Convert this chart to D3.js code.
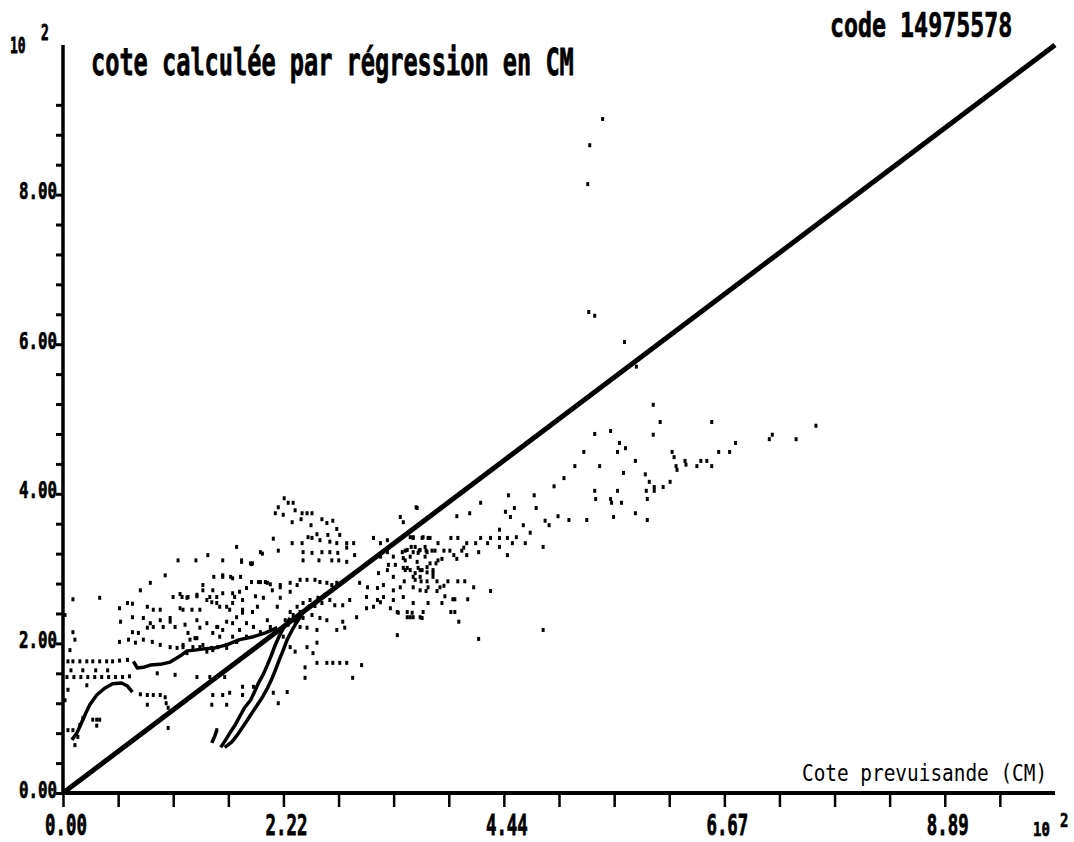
<!DOCTYPE html>
<html>
<head>
<meta charset="utf-8">
<script src="https://cdn.jsdelivr.net/npm/d3@7"></script>
<style>
body {margin:0; background:#fff;}
svg {display:block;}
text {font-family:"DejaVu Sans Mono", monospace; fill:#000;}
text.heavy {stroke:#000; stroke-width:0.5px;}
</style>
</head>
<body>
<div id="chart"></div>
<script>
// graduations
var xTicks = [0, 0.556, 1.111, 1.667, 2.222, 2.778, 3.333, 3.889, 4.444, 5.0, 5.556, 6.111, 6.667, 7.222, 7.778, 8.333, 8.889, 9.444];
var xLabelValues = [0, 2.222, 4.444, 6.667, 8.889];
var xLabels = ["0.00", "2.22", "4.44", "6.67", "8.89"];
var yTicks = [0, 0.4, 0.8, 1.2, 1.6, 2.0, 2.4, 2.8, 3.2, 3.6, 4.0, 4.4, 4.8, 5.2, 5.6, 6.0, 6.4, 6.8, 7.2, 7.6, 8.0, 8.4, 8.8, 9.2];
var yLabelValues = [0, 2, 4, 6, 8];
var yLabels = ["0.00", "2.00", "4.00", "6.00", "8.00"];

// droite y = x
var diagonale = [[0, 0], [10, 10]];

// points isolés en haut
var ptsOutliers = [[5.44,9.01],[5.31,8.66],[5.29,8.14],[5.30,6.43],[5.36,6.38],[5.66,6.03],[5.78,5.70]];

// nuage à droite (cotes prévues élevées)
var ptsDroite = [[5.95,5.19],[6.02,4.96],[6.54,4.96],[7.59,4.91],[5.36,4.80],[5.52,4.84],[5.95,4.79],[5.61,4.68],[5.67,4.61],[5.25,4.56],
  [5.59,4.56],[6.14,4.56],[6.16,4.49],[6.78,4.68],[7.12,4.73],[7.15,4.79],[7.39,4.73],[6.61,4.56],[6.72,4.56],[5.77,4.44],
  [6.27,4.44],[6.28,4.39],[6.43,4.44],[6.49,4.44],[6.39,4.37],[6.54,4.37],[6.18,4.37],[6.19,4.32],[5.16,4.37],[5.41,4.37],
  [5.65,4.28],[5.87,4.26],[5.05,4.21],[5.91,4.16],[5.96,4.09],[5.96,4.04],[6.05,4.09],[6.12,4.16],[5.36,4.04],[5.59,4.04],
  [5.88,4.04],[5.37,3.93],[5.52,3.93],[5.53,3.88],[5.63,3.88],[5.89,3.93],[5.77,3.74],[5.55,3.69],[5.10,3.65],[5.28,3.65],[5.89,3.65]];

// nuage du milieu
var ptsMilieu = [[3.56,3.82],[4.21,3.88],[4.49,3.98],[4.75,3.98],[4.95,4.10],[3.97,3.70],[4.10,3.74],[4.46,3.76],[4.51,3.69],[4.55,3.81],
  [4.77,3.81],[4.99,3.70],[4.86,3.64],[4.90,3.58],[4.64,3.58],[4.40,3.52],[4.71,3.48],[3.53,3.41],[3.70,3.41],[3.78,3.34],
  [3.91,3.41],[3.98,3.41],[4.07,3.34],[4.16,3.34],[4.21,3.41],[4.28,3.34],[4.31,3.41],[4.40,3.41],[4.48,3.41],[4.53,3.34],
  [4.57,3.42],[4.66,3.34],[4.40,3.29],[4.84,3.29],[4.48,3.18],[4.02,3.24],[4.04,3.28],[4.07,3.18],[4.19,3.22],[3.45,3.24],
  [3.51,3.29],[3.59,3.24],[3.66,3.24],[3.72,3.24],[3.75,3.24],[3.84,3.24],[3.90,3.24],[3.94,3.18],[3.82,3.13],[3.97,3.13],
  [3.45,3.11],[3.47,3.01],[3.58,3.01],[3.67,3.02],[3.76,3.07],[3.55,2.94],[3.60,2.89],[3.73,2.94],[3.73,2.89],[3.44,2.83],
  [3.55,2.85],[3.61,2.83],[3.67,2.83],[3.77,2.83],[3.88,2.83],[3.98,2.83],[4.05,2.83],[3.80,2.75],[3.84,2.77],[4.14,2.75],
  [4.31,2.70],[3.66,2.70],[3.77,2.70],[3.85,2.63],[3.93,2.59],[3.95,2.59],[4.08,2.59],[3.68,2.54],[3.82,2.54],[3.91,2.42],
  [3.95,2.42],[3.47,2.42],[3.50,2.35],[3.53,2.35],[3.60,2.35],[3.63,2.42],[3.99,2.29],[4.84,2.18],[4.19,2.06]];

// nuage central, autour de la droite
var ptsCentre = [[2.23,3.94],[2.27,3.88],[2.32,3.88],[2.17,3.82],[2.14,3.74],[2.22,3.72],[2.34,3.78],[2.41,3.74],[2.46,3.74],[2.51,3.74],
  [2.40,3.66],[2.31,3.62],[2.61,3.66],[2.66,3.61],[2.72,3.64],[2.50,3.58],[2.12,3.40],[2.31,3.34],[2.41,3.34],[2.47,3.42],
  [2.51,3.41],[2.56,3.46],[2.59,3.38],[2.67,3.45],[2.69,3.36],[2.76,3.53],[2.79,3.45],[2.76,3.34],[2.86,3.34],[2.93,3.34],
  [2.42,3.22],[2.51,3.21],[2.61,3.22],[2.69,3.22],[2.77,3.21],[2.86,3.28],[2.94,3.18],[1.99,3.22],[2.17,3.24],[1.80,3.11],
  [1.91,3.07],[2.01,3.20],[2.42,3.11],[2.58,3.11],[2.71,3.11],[2.78,3.11],[2.86,3.09],[3.13,3.41],[3.20,3.34],[3.27,3.38],
  [3.40,3.69],[3.43,3.62],[3.57,3.81],[3.53,3.42],[3.62,3.41],[3.68,3.41],[3.42,3.22],[3.47,3.25],[3.53,3.22],[3.60,3.25],
  [3.67,3.22],[3.43,3.14],[3.50,3.16],[3.57,3.09],[3.65,3.16],[3.70,3.07],[3.78,3.11],[3.28,3.05],[3.35,3.05],[3.43,3.01],
  [3.50,2.98],[3.60,2.98],[3.67,2.95],[3.73,2.98],
  [1.34,3.11],[1.46,3.18],[1.61,3.11],[1.75,3.29],[1.90,3.06],[1.52,2.89],[1.61,2.89],[1.69,2.89],[1.79,2.89],[1.90,2.82],
  [1.97,2.82],[2.04,2.82],[2.09,2.79],[2.19,2.75],[2.11,2.71],[2.19,2.61],[2.29,2.81],[2.36,2.78],[2.39,2.85],[2.46,2.85],
  [2.54,2.85],[2.59,2.82],[2.66,2.81],[2.71,2.78],[2.76,2.81],[1.94,2.63],[2.02,2.61],[1.81,2.58],[1.73,2.62],[1.61,2.67],
  [1.55,2.62],[1.51,2.71],[1.48,2.62],[1.41,2.71],[1.35,2.63],[1.26,2.62],[1.20,2.62],[1.68,2.45],[1.75,2.35],[1.81,2.41],
  [1.85,2.27],[1.65,2.29],[1.56,2.22],[1.51,2.14],[1.58,2.09],[1.71,2.09],[1.75,2.02],[1.65,1.98],[1.51,1.91],[1.45,1.89],
  [1.38,1.95],[1.31,1.95],[1.25,1.87],[1.21,1.95],[1.33,2.07],[1.38,2.21],[1.26,2.14],[3.37,2.11],[2.92,1.54],[3.01,1.71],
  [2.86,1.74],[2.79,1.74],[2.72,1.74],[2.66,1.74],[2.56,1.74],[2.44,1.68],[2.44,1.54],[2.34,1.89],[2.29,1.95],[2.46,1.95],
  [2.52,1.87],[2.56,2.01],[2.22,2.09],[3.06,2.47],[3.13,2.49],[3.20,2.55],[3.30,2.47],[3.37,2.42],[3.47,2.35],[3.62,2.34],
  [3.52,2.41],[3.38,2.41],[2.96,2.35],[2.82,2.29],[2.84,2.21],[2.76,2.18],[2.66,2.31],[2.59,2.34],[2.56,2.18],[2.46,2.21],
  [2.39,2.22],[2.99,2.81],[3.07,2.75],[3.17,2.74],[3.23,2.78],[3.33,2.71],[3.40,2.75],[3.53,2.75],[3.60,2.71],[3.68,2.75],
  [3.18,2.94],[3.27,2.98],[3.33,2.89],[3.45,2.98],[3.53,2.89],[3.62,2.98],[3.06,2.62],[3.17,2.58],[3.23,2.62],[3.33,2.58],
  [3.43,2.62],[3.53,2.54],[3.55,3.29],[3.58,3.21],[3.65,3.29],[3.50,3.42],[3.63,3.42],[3.33,3.16],[3.20,3.16],[3.27,3.22],
  [2.29,2.42],[2.36,2.49],[2.42,2.54],[2.49,2.58],[2.57,2.61],[2.64,2.65],[2.24,2.31],[2.32,2.38],[2.39,2.42],[2.47,2.47],
  [2.54,2.50],[2.61,2.54],[2.69,2.58],[2.74,2.51],[2.82,2.51],[2.89,2.58],[2.19,2.18],[2.27,2.25],[2.34,2.29],[2.42,2.34],[2.51,2.38]];

// nuage de gauche (faibles cotes prévues)
var ptsGauche = [[0.10,2.59],[0.57,2.47],[0.65,2.54],[0.70,2.53],[0.85,2.49],[0.91,2.45],[0.98,2.45],[1.11,2.62],[1.18,2.66],[1.25,2.61],
  [1.35,2.65],[1.61,2.91],[1.71,2.87],[1.80,3.09],[1.89,3.07],[1.41,2.78],[1.71,2.67],[1.78,2.69],[1.85,2.74],[1.99,2.82],
  [2.06,2.81],[2.19,2.78],[2.29,2.69],[0.58,2.29],[0.70,2.35],[0.81,2.34],[0.88,2.27],[0.98,2.31],[1.08,2.34],[1.18,2.47],
  [1.21,2.45],[1.30,2.45],[1.38,2.45],[1.45,2.58],[1.50,2.55],[1.55,2.54],[1.58,2.49],[1.65,2.49],[1.71,2.54],[1.81,2.45],
  [1.91,2.42],[1.96,2.49],[2.06,2.31],[2.16,2.49],[0.70,2.15],[0.76,2.14],[0.85,2.21],[0.91,2.22],[1.01,2.22],[1.08,2.29],
  [1.13,2.22],[1.23,2.25],[1.35,2.31],[1.45,2.27],[1.55,2.22],[1.61,2.18],[1.71,2.27],[1.78,2.18],[1.92,2.22],[0.57,2.02],
  [0.66,2.05],[0.73,2.01],[0.81,2.05],[0.90,2.02],[0.98,1.98],[1.08,1.95],[1.15,1.94],[1.21,1.98],[1.28,2.05],[1.35,2.07],
  [1.41,1.98],[1.50,1.94],[1.56,1.95],[1.65,1.94],[1.75,2.02],[1.85,2.09],[1.99,2.15],[2.09,2.22],[0.10,2.15],[0.12,2.05],
  [0.07,1.91],
  [0.05,1.76],[0.10,1.76],[0.17,1.76],[0.24,1.76],[0.30,1.76],[0.37,1.76],[0.44,1.76],[0.50,1.76],[0.57,1.77],[0.65,1.78],
  [0.04,1.55],[0.11,1.55],[0.18,1.55],[0.25,1.55],[0.32,1.55],[0.39,1.55],[0.46,1.55],[0.53,1.55],[0.60,1.55],[0.67,1.56],
  [0.08,1.64],[0.20,1.64],[0.33,1.64],[0.45,1.64],
  [0.78,1.32],[0.85,1.31],[0.91,1.31],[0.98,1.31],[1.03,1.28],[1.04,1.20],[1.06,1.14],
  [0.95,1.60],[1.13,1.58],[1.35,1.55],[1.48,1.55],[1.63,1.55],[1.81,1.42],[1.92,1.42],[1.51,1.31],[1.61,1.31],[1.68,1.34],
  [1.81,1.31],[1.65,1.18],[1.50,1.18],[2.12,1.34],[2.17,1.20],[2.26,1.35],[0.05,1.38],[0.24,1.44],[1.06,0.87],[0.85,1.18],
  [1.55,0.84],[0.02,2.38],[0.02,1.24],[1.16,3.11],[1.03,2.91],[0.88,2.81],[0.78,2.71],[0.37,2.61],
  [0.05,0.84],[0.10,0.84],[0.15,0.75],[0.17,0.91],[0.20,1.00],[0.30,0.98],[0.34,0.98],[0.37,0.98],[0.34,0.90],[0.12,0.64]];

// suites de points reliés (tracés continus)
var traceA = [[0.09,0.71],[0.14,0.80],[0.19,0.95],[0.23,1.07],[0.27,1.18],[0.34,1.31],[0.42,1.40],[0.50,1.46],[0.59,1.47],[0.65,1.43],[0.70,1.35]];
var traceB = [[0.71,1.76],[0.75,1.67],[0.81,1.68],[0.88,1.71],[0.98,1.72],[1.08,1.75],[1.18,1.83],[1.25,1.90],[1.33,1.91],[1.43,1.93],
  [1.53,1.94],[1.65,1.98],[1.78,2.05],[1.92,2.09],[2.04,2.14],[2.16,2.21]];
var traceRaide1 = [[1.63,0.61],[1.70,0.68],[1.76,0.78],[1.81,0.88],[1.86,0.98],[1.91,1.08],[1.96,1.18],[2.01,1.28],[2.06,1.40],[2.10,1.51],
  [2.14,1.64],[2.18,1.78],[2.22,1.91],[2.26,2.05],[2.31,2.18],[2.36,2.29],[2.42,2.41],[2.49,2.51]];
var traceRaide2 = [[1.59,0.61],[1.64,0.71],[1.69,0.82],[1.74,0.92],[1.78,1.02],[1.83,1.14],[1.89,1.24],[1.93,1.35],[1.97,1.47],[2.02,1.59],
  [2.06,1.71],[2.10,1.84],[2.14,1.98],[2.18,2.10],[2.23,2.22],[2.29,2.34]];
var traceRaide3 = [[1.50,0.67],[1.53,0.76],[1.55,0.84]];

var W = 1074, H = 842;

var x = d3.scaleLinear().domain([0, 10]).range([63, 1055]);
var y = d3.scaleLinear().domain([0, 10]).range([793, 45]);

var svg = d3.select('#chart').append('svg')
    .attr('width', W)
    .attr('height', H);

// texte étiré en hauteur, façon police bitmap
function tall(txt, px, py, size, sy, weight, anchor) {
    return svg.append('text')
        .attr('class', weight === 'normal' ? null : 'heavy')
        .attr('transform', 'translate(' + px + ',' + py + ') scale(1,' + sy + ')')
        .attr('font-size', size)
        .attr('font-weight', weight || 'bold')
        .attr('text-anchor', anchor || 'start')
        .text(txt);
}

// graduations
svg.append('g')
    .attr('transform', 'translate(0,' + y(0) + ')')
    .call(d3.axisBottom(x).tickValues(xTicks).tickSize(14).tickSizeOuter(0).tickFormat(''))
    .call(function(g) { g.select('.domain').remove(); })
    .selectAll('line').attr('stroke', '#000').attr('stroke-width', 2.5);

svg.append('g')
    .attr('transform', 'translate(' + x(0) + ',0)')
    .call(d3.axisLeft(y).tickValues(yTicks).tickSize(7).tickSizeOuter(0).tickFormat(''))
    .call(function(g) { g.select('.domain').remove(); })
    .selectAll('line').attr('stroke', '#000').attr('stroke-width', 3);

// axes
svg.append('line')
    .attr('x1', x(0)).attr('x2', x(10))
    .attr('y1', y(0)).attr('y2', y(0))
    .attr('stroke', '#000').attr('stroke-width', 4);
svg.append('line')
    .attr('x1', x(0)).attr('x2', x(0))
    .attr('y1', y(0) + 2).attr('y2', y(10))
    .attr('stroke', '#000').attr('stroke-width', 3.5);

// libellés des graduations
xLabelValues.forEach(function(v, i) {
    tall(xLabels[i], x(v) + 3, 835, 17.4, 1.6, 'bold', 'middle');
});
yLabelValues.forEach(function(v, i) {
    tall(yLabels[i], x(0) - 6, y(v) + 4.5, 15.8, 1.48, 'bold', 'end');
});

// puissances de dix
tall('10', 10, 53, 13, 1.6);
tall('2', 41, 40, 13, 1.6);
tall('10', 1033, 836, 14, 1.4);
tall('2', 1060, 827, 14, 1.4);

// titres
tall('cote calculée par régression en CM', 91, 75, 23.6, 1.6);
tall('code 14975578', 830, 37, 23.3, 1.45);
tall('Cote prevuisande (CM)', 802, 781, 19.4, 1.15, 'normal');

// droite de régression
var line = d3.line()
    .x(function(d) { return x(d[0]); })
    .y(function(d) { return y(d[1]); });

svg.append('path')
    .datum(diagonale)
    .attr('d', line)
    .attr('fill', 'none')
    .attr('stroke', '#000')
    .attr('stroke-width', 5);

// tracés continus
[traceA, traceB, traceRaide1, traceRaide2, traceRaide3].forEach(function(t) {
    svg.append('path')
        .datum(t)
        .attr('d', line)
        .attr('fill', 'none')
        .attr('stroke', '#000')
        .attr('stroke-width', 3.5)
        .attr('stroke-linejoin', 'round');
});

// points
var allPts = ptsOutliers.concat(ptsDroite, ptsMilieu, ptsCentre, ptsGauche);
svg.selectAll('rect.pt')
    .data(allPts)
    .enter().append('rect')
    .attr('class', 'pt')
    .attr('x', function(d) { return x(d[0]) - 1.5; })
    .attr('y', function(d) { return y(d[1]) - 2; })
    .attr('width', 3)
    .attr('height', 4)
    .attr('fill', '#000');
</script>
</body>
</html>
